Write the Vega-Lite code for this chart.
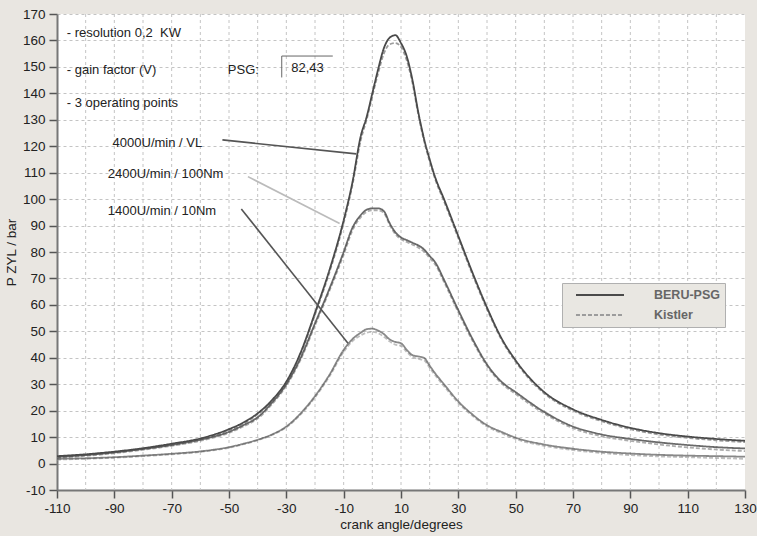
{
  "$schema": "https://vega.github.io/schema/vega-lite/v6.json",
  "width": 688,
  "height": 476,
  "autosize": {"type": "none"},
  "padding": {"left": 57, "top": 14, "right": 12, "bottom": 46},
  "background": "#e9e6e1",
  "config": {
    "font": "Liberation Sans",
    "view": {"stroke": null, "fill": "white"}
  },
  "datasets": {
    "curves": [
      {"x": -110, "A_psg": 2.8, "A_kis": 2.5, "B_psg": 2.5, "B_kis": 2.2, "C_psg": 1.8, "C_kis": 1.5},
      {"x": -100, "A_psg": 3.5, "A_kis": 3.2, "B_psg": 3.2, "B_kis": 2.9, "C_psg": 2.0, "C_kis": 1.8},
      {"x": -90, "A_psg": 4.5, "A_kis": 4.2, "B_psg": 4.2, "B_kis": 3.9, "C_psg": 2.4, "C_kis": 2.2},
      {"x": -80, "A_psg": 5.8, "A_kis": 5.5, "B_psg": 5.5, "B_kis": 5.2, "C_psg": 3.0, "C_kis": 2.8},
      {"x": -70, "A_psg": 7.5, "A_kis": 7.2, "B_psg": 7.0, "B_kis": 6.7, "C_psg": 3.7, "C_kis": 3.5},
      {"x": -60, "A_psg": 9.5, "A_kis": 9.2, "B_psg": 9.0, "B_kis": 8.6, "C_psg": 4.6, "C_kis": 4.4},
      {"x": -50, "A_psg": 13.0, "A_kis": 12.6, "B_psg": 12.0, "B_kis": 11.6, "C_psg": 6.2, "C_kis": 6.0},
      {"x": -45, "A_psg": 15.5, "A_kis": 15.1, "B_psg": 14.5, "B_kis": 14.0, "C_psg": 7.5, "C_kis": 7.3},
      {"x": -40, "A_psg": 19.0, "A_kis": 18.6, "B_psg": 17.5, "B_kis": 17.0, "C_psg": 9.0, "C_kis": 8.8},
      {"x": -35, "A_psg": 24.0, "A_kis": 23.6, "B_psg": 23.0, "B_kis": 22.4, "C_psg": 11.0, "C_kis": 10.8},
      {"x": -30, "A_psg": 31.0, "A_kis": 30.6, "B_psg": 30.0, "B_kis": 29.4, "C_psg": 14.0, "C_kis": 13.7},
      {"x": -25, "A_psg": 42.0, "A_kis": 41.5, "B_psg": 40.0, "B_kis": 39.3, "C_psg": 19.0, "C_kis": 18.6},
      {"x": -20, "A_psg": 57.0, "A_kis": 56.3, "B_psg": 53.0, "B_kis": 52.2, "C_psg": 25.5, "C_kis": 25.0},
      {"x": -15, "A_psg": 73.0, "A_kis": 72.2, "B_psg": 66.0, "B_kis": 65.2, "C_psg": 33.5, "C_kis": 32.9},
      {"x": -10, "A_psg": 92.0, "A_kis": 91.0, "B_psg": 80.0, "B_kis": 79.0, "C_psg": 43.0, "C_kis": 42.2},
      {"x": -7, "A_psg": 106, "A_kis": 105, "B_psg": 89, "B_kis": 88, "C_psg": 47, "C_kis": 46.2},
      {"x": -4, "A_psg": 124, "A_kis": 122.5, "B_psg": 94, "B_kis": 93.2, "C_psg": 49.5, "C_kis": 48.5},
      {"x": -2, "A_psg": 131, "A_kis": 130, "B_psg": 96, "B_kis": 95.2, "C_psg": 50.8, "C_kis": 49.5},
      {"x": 0, "A_psg": 140, "A_kis": 139, "B_psg": 96.5, "B_kis": 95.8, "C_psg": 51, "C_kis": 49.8},
      {"x": 2, "A_psg": 149, "A_kis": 147.5, "B_psg": 96.5, "B_kis": 95.7, "C_psg": 50.3, "C_kis": 49.3},
      {"x": 4, "A_psg": 157, "A_kis": 155, "B_psg": 95.5, "B_kis": 94.8, "C_psg": 49, "C_kis": 48},
      {"x": 6, "A_psg": 161, "A_kis": 158.5, "B_psg": 91, "B_kis": 90.4, "C_psg": 47, "C_kis": 46.2},
      {"x": 8, "A_psg": 162, "A_kis": 159, "B_psg": 87.5, "B_kis": 86.8, "C_psg": 46, "C_kis": 45},
      {"x": 10, "A_psg": 159, "A_kis": 157.5, "B_psg": 85.5, "B_kis": 84.8, "C_psg": 45.5, "C_kis": 44.5},
      {"x": 12, "A_psg": 154, "A_kis": 152.5, "B_psg": 84.5, "B_kis": 83.8, "C_psg": 43, "C_kis": 42.2},
      {"x": 14, "A_psg": 145, "A_kis": 144, "B_psg": 83.5, "B_kis": 82.8, "C_psg": 41, "C_kis": 40.3},
      {"x": 16, "A_psg": 133, "A_kis": 132.2, "B_psg": 82.5, "B_kis": 81.7, "C_psg": 40.5, "C_kis": 39.6},
      {"x": 18, "A_psg": 123, "A_kis": 122.2, "B_psg": 81, "B_kis": 80.2, "C_psg": 40, "C_kis": 39.1},
      {"x": 20, "A_psg": 115, "A_kis": 114.3, "B_psg": 78.5, "B_kis": 77.7, "C_psg": 37, "C_kis": 36.2},
      {"x": 22, "A_psg": 108, "A_kis": 107.3, "B_psg": 76, "B_kis": 75.2, "C_psg": 34, "C_kis": 33.3},
      {"x": 25, "A_psg": 100, "A_kis": 99.2, "B_psg": 69.5, "B_kis": 68.7, "C_psg": 30, "C_kis": 29.3},
      {"x": 30, "A_psg": 86, "A_kis": 85.3, "B_psg": 58, "B_kis": 57.2, "C_psg": 23.5, "C_kis": 22.9},
      {"x": 35, "A_psg": 72, "A_kis": 71.3, "B_psg": 47, "B_kis": 46.3, "C_psg": 18.5, "C_kis": 18},
      {"x": 40, "A_psg": 59, "A_kis": 58.4, "B_psg": 37.5, "B_kis": 36.9, "C_psg": 14.5, "C_kis": 14},
      {"x": 45, "A_psg": 47.5, "A_kis": 47, "B_psg": 31, "B_kis": 30.4, "C_psg": 12, "C_kis": 11.5},
      {"x": 50, "A_psg": 39, "A_kis": 38.5, "B_psg": 27, "B_kis": 26.3, "C_psg": 9.8, "C_kis": 9.3},
      {"x": 60, "A_psg": 27, "A_kis": 26.5, "B_psg": 19.5, "B_kis": 18.9, "C_psg": 7.2, "C_kis": 6.7},
      {"x": 70, "A_psg": 20.5, "A_kis": 20, "B_psg": 14, "B_kis": 13.4, "C_psg": 5.6, "C_kis": 5.1},
      {"x": 80, "A_psg": 16.5, "A_kis": 16, "B_psg": 11, "B_kis": 10.3, "C_psg": 4.5, "C_kis": 4},
      {"x": 90, "A_psg": 13.5, "A_kis": 13, "B_psg": 9.3, "B_kis": 8.6, "C_psg": 3.8, "C_kis": 3.2},
      {"x": 100, "A_psg": 11.5, "A_kis": 11, "B_psg": 8, "B_kis": 7.2, "C_psg": 3.3, "C_kis": 2.7},
      {"x": 110, "A_psg": 10.2, "A_kis": 9.7, "B_psg": 7, "B_kis": 6.1, "C_psg": 3.0, "C_kis": 2.4},
      {"x": 120, "A_psg": 9.3, "A_kis": 8.8, "B_psg": 6.2, "B_kis": 5.3, "C_psg": 2.8, "C_kis": 2.1},
      {"x": 130, "A_psg": 8.6, "A_kis": 8.1, "B_psg": 5.7, "B_kis": 4.7, "C_psg": 2.6, "C_kis": 1.8}
    ],
    "series": [
      {"key": "A_psg", "sensor": "BERU-PSG", "op": "A"},
      {"key": "A_kis", "sensor": "Kistler", "op": "A"},
      {"key": "B_psg", "sensor": "BERU-PSG", "op": "B"},
      {"key": "B_kis", "sensor": "Kistler", "op": "B"},
      {"key": "C_psg", "sensor": "BERU-PSG", "op": "C"},
      {"key": "C_kis", "sensor": "Kistler", "op": "C"}
    ],
    "xgrid": [
      {"x": -100}, {"x": -90}, {"x": -80}, {"x": -70}, {"x": -60}, {"x": -50}, {"x": -40}, {"x": -30},
      {"x": -20}, {"x": -10}, {"x": 0}, {"x": 10}, {"x": 20}, {"x": 30}, {"x": 40}, {"x": 50},
      {"x": 60}, {"x": 70}, {"x": 80}, {"x": 90}, {"x": 100}, {"x": 110}, {"x": 120}
    ],
    "notes": [
      {"x": -106.6, "y": 162.8, "text": "- resolution 0,2\u00a0 KW"},
      {"x": -106.6, "y": 148.8, "text": "- gain factor (V)"},
      {"x": -106.6, "y": 136.3, "text": "- 3 operating points"},
      {"x": -50.4, "y": 148.8, "text": "PSG:"},
      {"x": -28.3, "y": 149.6, "text": "82,43"},
      {"x": -90.6, "y": 121.2, "text": "4000U/min / VL"},
      {"x": -92.3, "y": 109.5, "text": "2400U/min / 100Nm"},
      {"x": -92.3, "y": 95.5, "text": "1400U/min / 10Nm"}
    ],
    "pointersDark": [
      {"x": -52.3, "y": 122.4, "x2": -5.6, "y2": 117.1},
      {"x": -45.7, "y": 96.3, "x2": -8.5, "y2": 45.5}
    ],
    "pointersLight": [
      {"x": -43.4, "y": 108.5, "x2": -11.4, "y2": 90.8}
    ],
    "box": [
      {"x": -31.6, "y": 154.1, "x2": -13.8, "y2": 154.1},
      {"x": -31.6, "y": 154.1, "x2": -31.6, "y2": 146.0}
    ]
  },
  "layer": [
    {
      "data": {"name": "xgrid"},
      "mark": {"type": "rule", "color": "#c4c4c4", "strokeWidth": 1, "strokeDash": [3, 3]},
      "encoding": {
        "x": {"field": "x", "type": "quantitative", "scale": {"domain": [-110, 130], "nice": false}}
      }
    },
    {
      "data": {"name": "curves"},
      "transform": [
        {"fold": ["A_kis", "B_kis", "C_kis", "A_psg", "B_psg", "C_psg"]},
        {"lookup": "key", "from": {"data": {"name": "series"}, "key": "key", "fields": ["sensor", "op"]}}
      ],
      "mark": {"type": "line", "strokeWidth": 1.8, "interpolate": "monotone"},
      "encoding": {
        "x": {
          "field": "x", "type": "quantitative",
          "scale": {"domain": [-110, 130], "nice": false},
          "axis": {
            "values": [-110, -90, -70, -50, -30, -10, 10, 30, 50, 70, 90, 110, 130],
            "tickCount": 30,
            "labelExpr": "'' + datum.value",
            "title": "crank angle/degrees",
            "grid": false, "labelOverlap": false,
            "tickSize": 8, "tickColor": "#555", "tickWidth": 1.5,
            "domainColor": "#777", "domainWidth": 2,
            "labelFontSize": 13.5, "labelColor": "#222", "labelPadding": 3,
            "labelFlush": false,
            "titleFontSize": 13.5, "titleFontWeight": "normal", "titleColor": "#222", "titlePadding": 3
          }
        },
        "y": {
          "field": "value", "type": "quantitative",
          "scale": {"domain": [-10, 170], "nice": false},
          "axis": {
            "values": [-10, 0, 10, 20, 30, 40, 50, 60, 70, 80, 90, 100, 110, 120, 130, 140, 150, 160, 170],
            "tickCount": 30,
            "labelExpr": "'' + datum.value",
            "title": "P ZYL / bar",
            "grid": true, "gridColor": "#c4c4c4", "gridDash": [3, 3], "gridWidth": 1,
            "labelOverlap": false, "labelFlush": false,
            "tickSize": 8, "tickColor": "#555", "tickWidth": 1.5,
            "domainColor": "#777", "domainWidth": 2,
            "labelFontSize": 13.5, "labelColor": "#222", "labelPadding": 4,
            "titleFontSize": 13.5, "titleFontWeight": "normal", "titleColor": "#222", "titlePadding": 4
          }
        },
        "detail": {"field": "key"},
        "color": {
          "field": "sensor", "type": "nominal",
          "scale": {"domain": ["BERU-PSG", "Kistler"], "range": ["#4a4a4a", "#9c9c9c"]},
          "legend": {
            "title": null, "orient": "none", "legendX": 505, "legendY": 269,
            "padding": 5, "fillColor": "#e9e7e2", "strokeColor": "#b0b0b0",
            "symbolType": "M0.33,0H8.33", "symbolSize": 144, "symbolStrokeWidth": 2,
            "labelFontSize": 12.5, "labelFontWeight": "bold", "labelColor": "#666",
            "labelOffset": 73, "rowPadding": 6
          }
        },
        "strokeDash": {
          "field": "sensor", "type": "nominal",
          "scale": {"domain": ["BERU-PSG", "Kistler"], "range": [[1, 0], [4, 2]]},
          "legend": {
            "title": null, "orient": "none", "legendX": 505, "legendY": 269,
            "padding": 5, "fillColor": "#e9e7e2", "strokeColor": "#b0b0b0",
            "symbolType": "M0.33,0H8.33", "symbolSize": 144, "symbolStrokeWidth": 2,
            "labelFontSize": 12.5, "labelFontWeight": "bold", "labelColor": "#666",
            "labelOffset": 73, "rowPadding": 6
          }
        },
        "opacity": {
          "field": "op", "type": "nominal",
          "scale": {"domain": ["A", "B", "C"], "range": [1, 0.65, 1]},
          "legend": null
        }
      }
    },
    {
      "data": {"name": "pointersDark"},
      "mark": {"type": "rule", "color": "#555", "strokeWidth": 1.6},
      "encoding": {
        "x": {"field": "x", "type": "quantitative"},
        "y": {"field": "y", "type": "quantitative"},
        "x2": {"field": "x2"},
        "y2": {"field": "y2"}
      }
    },
    {
      "data": {"name": "pointersLight"},
      "mark": {"type": "rule", "color": "#bbbbbb", "strokeWidth": 1.6},
      "encoding": {
        "x": {"field": "x", "type": "quantitative"},
        "y": {"field": "y", "type": "quantitative"},
        "x2": {"field": "x2"},
        "y2": {"field": "y2"}
      }
    },
    {
      "data": {"name": "box"},
      "mark": {"type": "rule", "color": "#666", "strokeWidth": 1},
      "encoding": {
        "x": {"field": "x", "type": "quantitative"},
        "y": {"field": "y", "type": "quantitative"},
        "x2": {"field": "x2"},
        "y2": {"field": "y2"}
      }
    },
    {
      "data": {"name": "notes"},
      "mark": {"type": "text", "align": "left", "baseline": "middle", "fontSize": 13, "color": "#222"},
      "encoding": {
        "x": {"field": "x", "type": "quantitative"},
        "y": {"field": "y", "type": "quantitative"},
        "text": {"field": "text"}
      }
    },
    {
      "mark": {"type": "rule", "color": "#999", "strokeWidth": 2},
      "encoding": {"x": {"datum": 130}}
    }
  ]
}
